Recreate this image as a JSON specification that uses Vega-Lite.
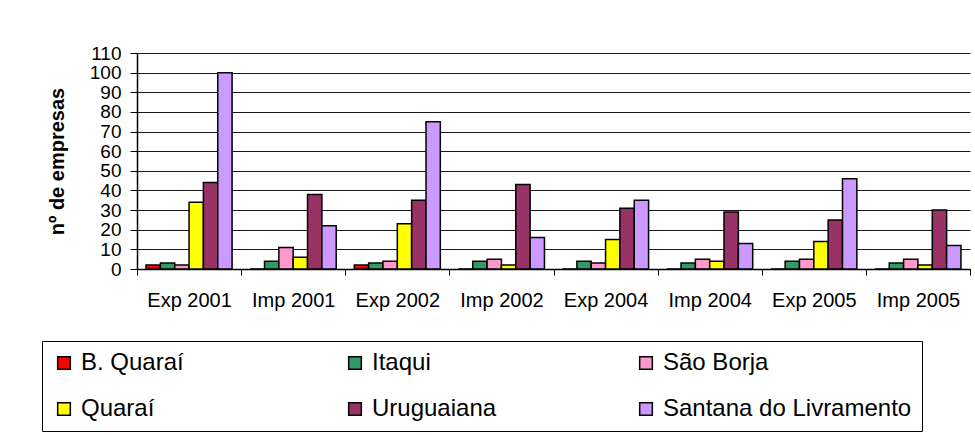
{
  "$schema": "https://vega.github.io/schema/vega-lite/v6.json",
  "width": 833,
  "height": 216,
  "autosize": {"type": "none"},
  "padding": {"left": 137, "top": 53, "right": 5, "bottom": 166},
  "config": {
    "font": "Liberation Sans",
    "view": {"stroke": null},
    "axis": {"labelColor": "black", "titleColor": "black", "labelFont": "Liberation Sans", "titleFont": "Liberation Sans"}
  },
  "data": {
    "values": [
      {"categoria": "Exp 2001", "cidade": "B. Quaraí", "empresas": 2},
      {"categoria": "Exp 2001", "cidade": "Itaqui", "empresas": 3},
      {"categoria": "Exp 2001", "cidade": "São Borja", "empresas": 2},
      {"categoria": "Exp 2001", "cidade": "Quaraí", "empresas": 34},
      {"categoria": "Exp 2001", "cidade": "Uruguaiana", "empresas": 44},
      {"categoria": "Exp 2001", "cidade": "Santana do Livramento", "empresas": 100},
      {"categoria": "Imp 2001", "cidade": "B. Quaraí", "empresas": 0},
      {"categoria": "Imp 2001", "cidade": "Itaqui", "empresas": 4},
      {"categoria": "Imp 2001", "cidade": "São Borja", "empresas": 11},
      {"categoria": "Imp 2001", "cidade": "Quaraí", "empresas": 6},
      {"categoria": "Imp 2001", "cidade": "Uruguaiana", "empresas": 38},
      {"categoria": "Imp 2001", "cidade": "Santana do Livramento", "empresas": 22},
      {"categoria": "Exp 2002", "cidade": "B. Quaraí", "empresas": 2},
      {"categoria": "Exp 2002", "cidade": "Itaqui", "empresas": 3},
      {"categoria": "Exp 2002", "cidade": "São Borja", "empresas": 4},
      {"categoria": "Exp 2002", "cidade": "Quaraí", "empresas": 23},
      {"categoria": "Exp 2002", "cidade": "Uruguaiana", "empresas": 35},
      {"categoria": "Exp 2002", "cidade": "Santana do Livramento", "empresas": 75},
      {"categoria": "Imp 2002", "cidade": "B. Quaraí", "empresas": 0},
      {"categoria": "Imp 2002", "cidade": "Itaqui", "empresas": 4},
      {"categoria": "Imp 2002", "cidade": "São Borja", "empresas": 5},
      {"categoria": "Imp 2002", "cidade": "Quaraí", "empresas": 2},
      {"categoria": "Imp 2002", "cidade": "Uruguaiana", "empresas": 43},
      {"categoria": "Imp 2002", "cidade": "Santana do Livramento", "empresas": 16},
      {"categoria": "Exp 2004", "cidade": "B. Quaraí", "empresas": 0},
      {"categoria": "Exp 2004", "cidade": "Itaqui", "empresas": 4},
      {"categoria": "Exp 2004", "cidade": "São Borja", "empresas": 3},
      {"categoria": "Exp 2004", "cidade": "Quaraí", "empresas": 15},
      {"categoria": "Exp 2004", "cidade": "Uruguaiana", "empresas": 31},
      {"categoria": "Exp 2004", "cidade": "Santana do Livramento", "empresas": 35},
      {"categoria": "Imp 2004", "cidade": "B. Quaraí", "empresas": 0},
      {"categoria": "Imp 2004", "cidade": "Itaqui", "empresas": 3},
      {"categoria": "Imp 2004", "cidade": "São Borja", "empresas": 5},
      {"categoria": "Imp 2004", "cidade": "Quaraí", "empresas": 4},
      {"categoria": "Imp 2004", "cidade": "Uruguaiana", "empresas": 29},
      {"categoria": "Imp 2004", "cidade": "Santana do Livramento", "empresas": 13},
      {"categoria": "Exp 2005", "cidade": "B. Quaraí", "empresas": 0},
      {"categoria": "Exp 2005", "cidade": "Itaqui", "empresas": 4},
      {"categoria": "Exp 2005", "cidade": "São Borja", "empresas": 5},
      {"categoria": "Exp 2005", "cidade": "Quaraí", "empresas": 14},
      {"categoria": "Exp 2005", "cidade": "Uruguaiana", "empresas": 25},
      {"categoria": "Exp 2005", "cidade": "Santana do Livramento", "empresas": 46},
      {"categoria": "Imp 2005", "cidade": "B. Quaraí", "empresas": 0},
      {"categoria": "Imp 2005", "cidade": "Itaqui", "empresas": 3},
      {"categoria": "Imp 2005", "cidade": "São Borja", "empresas": 5},
      {"categoria": "Imp 2005", "cidade": "Quaraí", "empresas": 2},
      {"categoria": "Imp 2005", "cidade": "Uruguaiana", "empresas": 30},
      {"categoria": "Imp 2005", "cidade": "Santana do Livramento", "empresas": 12}
    ]
  },
  "mark": {"type": "bar", "stroke": "black", "strokeWidth": 1.5},
  "encoding": {
    "x": {
      "field": "categoria",
      "type": "nominal",
      "sort": ["Exp 2001", "Imp 2001", "Exp 2002", "Imp 2002", "Exp 2004", "Imp 2004", "Exp 2005", "Imp 2005"],
      "scale": {"paddingInner": 0, "paddingOuter": 0},
      "axis": {
        "title": null,
        "labelAngle": 0,
        "labelFontSize": 20,
        "tickBand": "extent",
        "tickSize": 6,
        "tickColor": "black",
        "domainColor": "black",
        "domainWidth": 1.5,
        "labelPadding": 15,
        "grid": false
      }
    },
    "xOffset": {
      "field": "cidade",
      "type": "nominal",
      "sort": ["B. Quaraí", "Itaqui", "São Borja", "Quaraí", "Uruguaiana", "Santana do Livramento"],
      "scale": {"paddingInner": 0, "paddingOuter": 0.63}
    },
    "y": {
      "field": "empresas",
      "type": "quantitative",
      "scale": {"domain": [0, 110], "nice": false},
      "axis": {
        "values": [0, 10, 20, 30, 40, 50, 60, 70, 80, 90, 100, 110],
        "title": "nº de empresas",
        "titleFontSize": 20,
        "titleFontWeight": "bold",
        "titlePadding": 22,
        "labelFontSize": 19,
        "labelPadding": 9,
        "tickSize": 7,
        "tickColor": "black",
        "domainColor": "black",
        "domainWidth": 1.5,
        "gridColor": "black",
        "gridOpacity": 0.9,
        "gridWidth": 1
      }
    },
    "color": {
      "field": "cidade",
      "type": "nominal",
      "scale": {
        "domain": ["B. Quaraí", "Itaqui", "São Borja", "Quaraí", "Uruguaiana", "Santana do Livramento"],
        "range": ["#FF0000", "#339966", "#FF99CC", "#FFFF00", "#993366", "#CC99FF"]
      },
      "legend": {
        "title": null,
        "orient": "none",
        "legendX": -95,
        "legendY": 288,
        "direction": "horizontal",
        "columns": 3,
        "gridAlign": "all",
        "symbolType": "square",
        "symbolSize": 160,
        "symbolStrokeColor": "black",
        "symbolStrokeWidth": 1.5,
        "symbolOpacity": 1,
        "labelFontSize": 24,
        "labelColor": "black",
        "labelLimit": 400,
        "labelOffset": 5,
        "strokeColor": "black",
        "fillColor": "white",
        "padding": 10,
        "rowPadding": 22,
        "columnPadding": 13
      }
    }
  }
}
